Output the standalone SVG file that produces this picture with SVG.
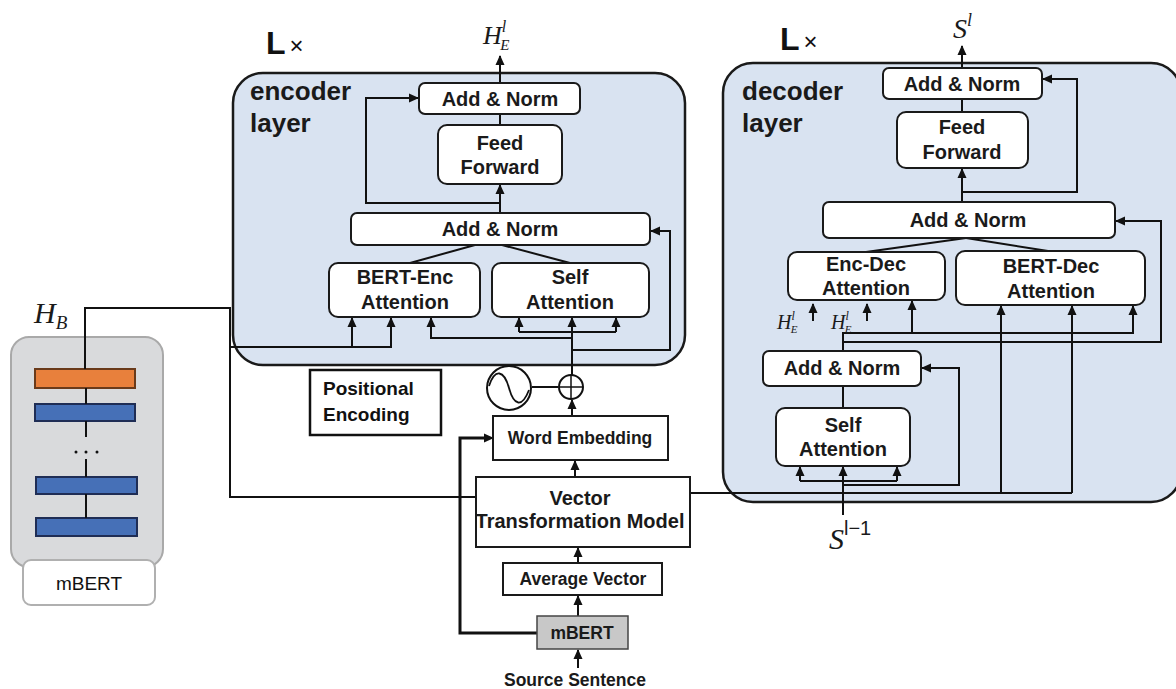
<svg xmlns="http://www.w3.org/2000/svg" width="1176" height="689" viewBox="0 0 1176 689">
<defs>
<marker id="ah" markerUnits="userSpaceOnUse" markerWidth="10" markerHeight="10" refX="9" refY="5" orient="auto">
<path d="M0,0.5 L10,5 L0,9.5 z" fill="#111"/>
</marker>
<style>
.cont{fill:#d9e3f1;stroke:#1a1a1a;stroke-width:2.5}
.nb{fill:#fff;stroke:#1a1a1a;stroke-width:2}
.sq{fill:#fff;stroke:#1a1a1a;stroke-width:2}
.t{font-family:"Liberation Sans",Arial,sans-serif;font-weight:bold;font-size:20px;fill:#1a1a1a;text-anchor:middle}
.ts{font-family:"Liberation Sans",Arial,sans-serif;font-weight:bold;font-size:17.5px;fill:#1a1a1a;text-anchor:middle}
.big{font-family:"Liberation Sans",Arial,sans-serif;font-weight:bold;font-size:26px;fill:#1a1a1a}
.m{font-family:"Liberation Serif","Times New Roman",serif;font-style:italic;fill:#1a1a1a}
.c{fill:none;stroke:#111;stroke-width:2}
.ca{fill:none;stroke:#111;stroke-width:2;marker-end:url(#ah)}
.thick{fill:none;stroke:#111;stroke-width:3}
</style>
</defs>
<rect width="1176" height="689" fill="#fff"/>

<!-- containers -->
<g id="encoder-layer">
<rect class="cont" x="233" y="73" width="452" height="292" rx="30"/>
<text class="big" x="250" y="100">encoder</text>
<text class="big" x="250" y="132">layer</text>
<text x="266" y="54" font-family="Liberation Sans,Arial,sans-serif" font-size="32" font-weight="bold" fill="#111">L<tspan font-weight="normal" font-size="24" dx="4">×</tspan></text>
</g>
<g id="decoder-layer">
<rect class="cont" x="723" y="63" width="458" height="439" rx="30"/>
<text class="big" x="742" y="100">decoder</text>
<text class="big" x="742" y="132">layer</text>
<text x="780" y="50" font-family="Liberation Sans,Arial,sans-serif" font-size="32" font-weight="bold" fill="#111">L<tspan font-weight="normal" font-size="24" dx="4">×</tspan></text>
</g>

<!-- mBERT left -->
<g id="mbert-left">
<rect x="11" y="337" width="152" height="230" rx="18" fill="#d9dadc" stroke="#a9a9a9" stroke-width="2"/>
<rect x="23" y="560" width="132" height="45" rx="8" fill="#fff" stroke="#b0b0b0" stroke-width="2"/>
<text x="89" y="590" font-family="Liberation Sans,Arial,sans-serif" font-size="19" fill="#111" text-anchor="middle">mBERT</text>
<rect x="35" y="369" width="100" height="19" fill="#e8803c" stroke="#6a3a1a" stroke-width="2"/>
<rect x="35" y="404" width="100" height="17" fill="#4670b7" stroke="#1f2d55" stroke-width="2"/>
<rect x="36" y="477" width="101" height="17" fill="#4670b7" stroke="#1f2d55" stroke-width="2"/>
<rect x="36" y="518" width="101" height="18" fill="#4670b7" stroke="#1f2d55" stroke-width="2"/>
<circle cx="76" cy="452" r="1.5" fill="#111"/><circle cx="86" cy="452" r="1.5" fill="#111"/><circle cx="97" cy="452" r="1.5" fill="#111"/>
<text class="m" x="34" y="323" font-size="30">H<tspan font-size="19" dy="6">B</tspan></text>
</g>

<!-- connectors -->
<g id="connectors">
<!-- mBERT internal -->
<path class="c" d="M86,388 V404 M86,421 V437 M86,459 V477 M86,494 V518"/>
<!-- encoder -->
<path class="ca" d="M500,83 V56"/>
<path class="c" d="M500,114 V125"/>
<path class="ca" d="M500,213 V185"/>
<path class="ca" d="M500,203 H366 V98 H418"/>
<path class="c" d="M475,245 L410,263"/>
<path class="c" d="M502,245 L570,263"/>
<path class="c" d="M85,369 V308 H230 V497 H476"/>
<path class="ca" d="M230,347 H391 V318"/>
<path class="ca" d="M352,347 V318"/>
<path class="ca" d="M572,375 V318"/>
<path class="c" d="M519,332 H616"/>
<path class="ca" d="M519,332 V318"/>
<path class="ca" d="M616,332 V318"/>
<path class="ca" d="M572,338 H431 V318"/>
<path class="ca" d="M572,350 H670 V231 H651"/>
<!-- positional / embedding -->
<path class="c" d="M532,387 H558"/>
<path class="ca" d="M572,416 V400"/>
<path class="ca" d="M575,477 V461"/>
<path class="ca" d="M578,563 V548"/>
<path class="ca" d="M578,616 V596"/>
<path class="ca" d="M578,668 V650"/>
<path class="thick" d="M537,633 H460 V438 H484"/>
<path class="ca" d="M484,438 H493"/>
<!-- H_B to decoder -->
<path class="c" d="M690,493 H1072"/>
<path class="ca" d="M1001,493 V306"/>
<path class="ca" d="M1072,493 V306"/>
<!-- decoder -->
<path class="ca" d="M962,68 V46"/>
<path class="c" d="M962,99 V112"/>
<path class="ca" d="M962,202 V169"/>
<path class="ca" d="M962,192 H1077 V79 H1043"/>
<path class="c" d="M966,238 L866,252"/>
<path class="c" d="M966,238 L1048,251"/>
<path class="ca" d="M813,321 V304"/>
<path class="ca" d="M867,321 V304"/>
<path class="ca" d="M912,333 V301"/>
<path class="ca" d="M843,351 V333 H1133 V306"/>
<path class="ca" d="M843,342 H1161 V221 H1116"/>
<path class="c" d="M843,408 V386"/>
<path class="ca" d="M843,515 V467"/>
<path class="c" d="M800,481 H897"/>
<path class="ca" d="M800,481 V467"/>
<path class="ca" d="M897,481 V467"/>
<path class="ca" d="M843,485 H959 V368 H922"/>
</g>

<!-- encoder nodes -->
<g id="enc-addnorm-top"><rect class="nb" x="419" y="83" width="161" height="31" rx="6"/><text class="t" x="500" y="106">Add &amp; Norm</text></g>
<g id="enc-ff"><rect class="nb" x="438" y="125" width="124" height="59" rx="9"/><text class="t" x="500" y="150">Feed</text><text class="t" x="500" y="174">Forward</text></g>
<g id="enc-addnorm-mid"><rect class="nb" x="351" y="213" width="299" height="32" rx="6"/><text class="t" x="500" y="236">Add &amp; Norm</text></g>
<g id="enc-bert-att"><rect class="nb" x="329" y="263" width="151" height="54" rx="9"/><text class="t" x="405" y="284">BERT-Enc</text><text class="t" x="405" y="309">Attention</text></g>
<g id="enc-self-att"><rect class="nb" x="492" y="263" width="157" height="54" rx="9"/><text class="t" x="570" y="284">Self</text><text class="t" x="570" y="309">Attention</text></g>
<g id="enc-out"><text class="m" x="483" y="44" font-size="26">H<tspan font-size="16" dy="-12">l</tspan><tspan font-size="15" dx="-6" dy="18">E</tspan></text></g>

<!-- positional encoding -->
<g id="positional-encoding"><rect x="310" y="370" width="131" height="65" fill="#fff" stroke="#111" stroke-width="2.5"/><text x="323" y="395" font-family="Liberation Sans,Arial,sans-serif" font-weight="bold" font-size="19" fill="#111">Positional</text><text x="323" y="421" font-family="Liberation Sans,Arial,sans-serif" font-weight="bold" font-size="19" fill="#111">Encoding</text></g>
<g id="sine"><circle cx="509" cy="388" r="22" fill="#fff" stroke="#111" stroke-width="2"/><path d="M489,386 C495,368 504,370 509,388 S522,408 529,390" fill="none" stroke="#111" stroke-width="1.8"/></g>
<g id="plus"><circle cx="571" cy="387" r="12" fill="#fff" stroke="#111" stroke-width="2"/><path d="M559,387 H583 M571,375 V399" stroke="#111" stroke-width="1.5"/></g>

<g id="word-embedding"><rect class="sq" x="493" y="416" width="175" height="44"/><text class="ts" x="580" y="444">Word Embedding</text></g>
<g id="vtm"><rect class="sq" x="476" y="477" width="214" height="70"/><text class="t" x="580" y="505" font-size="18">Vector</text><text class="t" x="580" y="528" font-size="18">Transformation Model</text></g>
<g id="average-vector"><rect class="sq" x="503" y="563" width="159" height="32"/><text class="ts" x="583" y="585">Average Vector</text></g>
<g id="mbert-small"><rect x="537" y="616" width="91" height="33" fill="#c8c8c8" stroke="#444" stroke-width="1.5"/><text class="ts" x="582" y="639" font-size="19">mBERT</text></g>
<g id="source"><text class="ts" x="575" y="686">Source Sentence</text></g>

<!-- decoder nodes -->
<g id="dec-addnorm-top"><rect class="nb" x="883" y="68" width="159" height="31" rx="6"/><text class="t" x="962" y="91">Add &amp; Norm</text></g>
<g id="dec-ff"><rect class="nb" x="897" y="112" width="131" height="56" rx="9"/><text class="t" x="962" y="134">Feed</text><text class="t" x="962" y="159">Forward</text></g>
<g id="dec-addnorm-mid"><rect class="nb" x="823" y="202" width="292" height="36" rx="6"/><text class="t" x="968" y="227">Add &amp; Norm</text></g>
<g id="dec-encdec-att"><rect class="nb" x="788" y="252" width="157" height="48" rx="9"/><text class="t" x="866" y="271">Enc-Dec</text><text class="t" x="866" y="295">Attention</text></g>
<g id="dec-bert-att"><rect class="nb" x="956" y="251" width="189" height="54" rx="9"/><text class="t" x="1051" y="273">BERT-Dec</text><text class="t" x="1051" y="298">Attention</text></g>
<g id="dec-addnorm-low"><rect class="nb" x="763" y="351" width="158" height="35" rx="6"/><text class="t" x="842" y="375">Add &amp; Norm</text></g>
<g id="dec-self-att"><rect class="nb" x="776" y="408" width="134" height="58" rx="9"/><text class="t" x="843" y="432">Self</text><text class="t" x="843" y="456">Attention</text></g>
<g id="dec-labels">
<text class="m" x="777" y="329" font-size="20">H<tspan font-size="12" dy="-9">l</tspan><tspan font-size="11" dx="-4" dy="13">E</tspan></text>
<text class="m" x="831" y="329" font-size="20">H<tspan font-size="12" dy="-9">l</tspan><tspan font-size="11" dx="-4" dy="13">E</tspan></text>
<text class="m" x="953" y="38" font-size="28">S<tspan font-size="18" dy="-12">l</tspan></text>
<text class="m" x="829" y="549" font-size="30">S<tspan font-size="20" dy="-14" font-style="normal" font-family="Liberation Sans,Arial,sans-serif">l−1</tspan></text>
</g>
</svg>
